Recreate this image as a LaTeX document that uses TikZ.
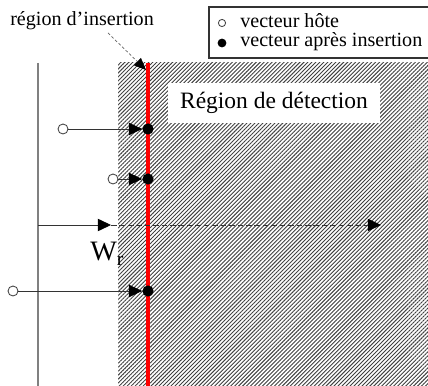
\documentclass[tikz,border=0pt]{standalone}
\usepackage{fontspec}
\setmainfont{Liberation Serif}
\usetikzlibrary{arrows.meta,patterns.meta}

\begin{document}
\begin{tikzpicture}[x=0.025cm,y=-0.025cm,
        hote/.style={circle,draw=black!75,fill=white,line width=0.6pt,inner sep=0pt,minimum size=0.25cm},
        apres/.style={circle,fill=black,inner sep=0pt,minimum size=0.28cm},
        vec/.style={draw=black!80,line width=0.6pt,-{Triangle[length=0.33cm,width=0.31cm,color=black]}},
        texte/.style={inner sep=0pt,font=\fontsize{14.3}{16}\selectfont}]
        \useasboundingbox (0,0) rectangle (428,386);
        \fill[white] (0,0) rectangle (428,386);
        \fill[pattern={Lines[angle=45,distance=2pt,line width=0.65pt]},pattern color=black!75] (118,63) rectangle (428,386);
        \node[fill=white,minimum width=5.3cm,minimum height=1cm,font=\fontsize{16.7}{20}\selectfont] (det) at (274,103) {Région de détection};
        \coordinate (rh) at (148,63);
        \coordinate (rb) at (148,386);
        \coordinate (gh) at (38,63);
        \coordinate (gb) at (38,386);
        \draw[red,line width=2.2pt] (rh) -- (rb);
        \draw[black!50,line width=1.4pt] (gh) -- (gb);
        \node[hote] (h1) at (63,129) {};
        \node[hote] (h2) at (113,179) {};
        \node[hote] (h3) at (13,291) {};
        \node[apres] (a1) at (148,129) {};
        \node[apres] (a2) at (148,179) {};
        \node[apres] (a3) at (148,291) {};
        \draw[vec] (h1) -- (a1);
        \draw[vec] (h2) -- (a2);
        \draw[vec] (h3) -- (a3);
        \coordinate (o) at (38,225);
        \coordinate (m) at (111,225);
        \coordinate (e) at (381,225);
        \draw[vec] (o) -- (m);
        \draw[vec,dash pattern=on 4pt off 2pt] (m) -- (e);
        \node[inner sep=0pt,anchor=base west,font=\fontsize{20}{24}\selectfont] (w) at (90,261) {W\textsubscript{r}};
        \node[texte,anchor=base west] (titre) at (10,26) {région d’insertion};
        \coordinate (depart) at (108,33);
        \coordinate (pointe) at (146,70);
        \draw[black!60,line width=0.5pt,dash pattern=on 2pt off 1.5pt,-{Triangle[length=0.3cm,width=0.25cm,color=black]}] (depart) -- (pointe);
        \draw[black!80,line width=0.8pt] (209,7) rectangle (445,58);
        \node[hote,minimum size=0.18cm] (lh) at (222,23) {};
        \node[apres,minimum size=0.22cm] (la) at (222,43) {};
        \node[texte,anchor=base west] (th) at (240,28) {vecteur hôte};
        \node[texte,anchor=base west] (ta) at (240,47) {vecteur après insertion};
    \end{tikzpicture}
\end{document}
